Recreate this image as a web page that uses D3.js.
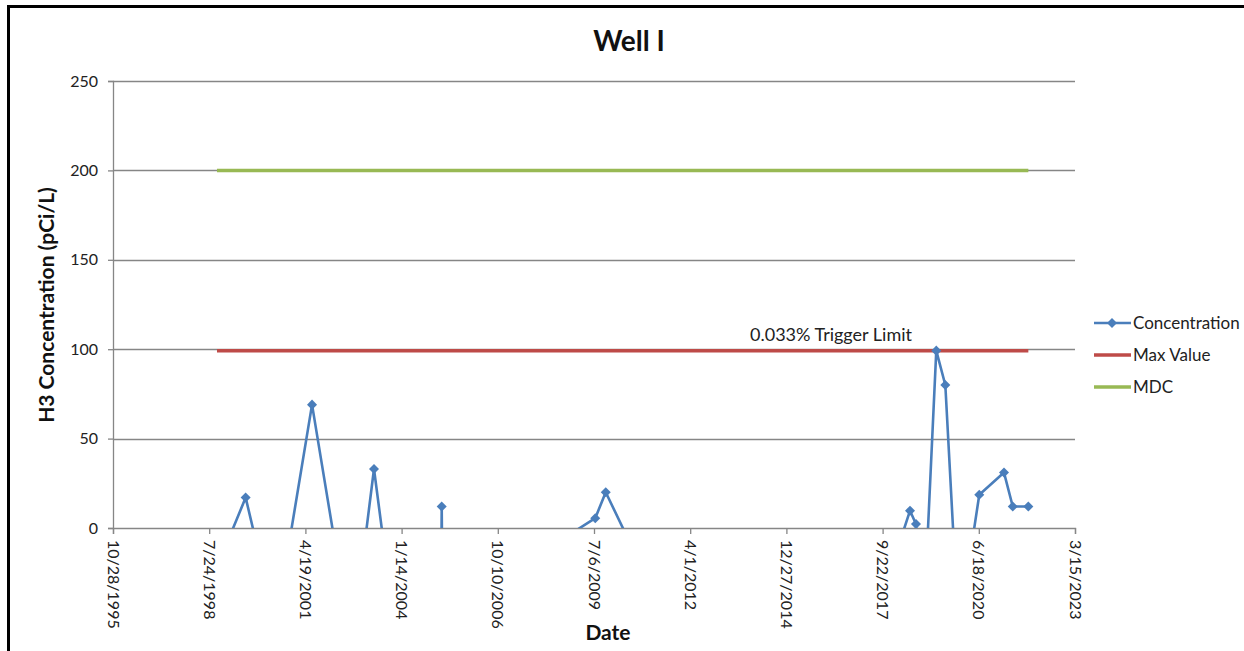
<!DOCTYPE html>
<html>
<head>
<meta charset="utf-8">
<script src="https://cdn.jsdelivr.net/npm/d3@7"></script>
<style>
  body { margin: 0; background: #fff; }
  svg { display: block; font-family: Lato, "Noto Sans", sans-serif; }
</style>
</head>
<body>
<div id="chart"></div>
<script>
// sample dates and H3 concentrations (negative non-detects fall below the axis)
var sampleDates = ['10/13/1998', '8/7/1999', '6/14/2000', '6/27/2001', '8/15/2002', '4/2/2003',
  '12/28/2003', '2/25/2005', '3/6/2005', '3/15/2005', '7/19/2009', '11/5/2009', '10/27/2010',
  '7/12/2012', '10/21/2014', '10/18/2016', '1/29/2018', '7/4/2018', '9/4/2018', '11/6/2018',
  '4/3/2019', '7/6/2019', '11/21/2019', '6/23/2020', '3/7/2021', '6/6/2021', '11/15/2021'];
var concentration = [-22, 17, -54, 69, -66, 33, -78, -60, 12, -49, 5.5, 20, -20, -30, -15, -25,
  -16, 9.7, 2.2, -72, 99.2, 80, -58, 18.6, 31, 12, 12];
var maxValue = 99.2;
var mdcValue = 200;

var xTickLabels = ['10/28/1995', '7/24/1998', '4/19/2001', '1/14/2004', '10/10/2006', '7/6/2009',
  '4/1/2012', '12/27/2014', '9/22/2017', '6/18/2020', '3/15/2023'];
var yTicks = [0, 50, 100, 150, 200, 250];

var seriesNames = ['Concentration', 'Max Value', 'MDC'];
var seriesColors = ['#4a7ebb', '#be4b48', '#98b954'];

var parseDate = d3.timeParse('%m/%d/%Y');

var margin = { top: 81, left: 113 };
var width = 1075 - 113;
var height = 528 - 81;

var svg = d3.select('#chart')
  .append('svg')
  .attr('width', 1244)
  .attr('height', 651);

// chart frame (only left and top visible)
svg.append('rect')
  .attr('x', 8.5)
  .attr('y', 6.5)
  .attr('width', 1400)
  .attr('height', 800)
  .attr('fill', 'none')
  .attr('stroke', '#000')
  .attr('stroke-width', 3);

var x = d3.scaleTime()
  .domain([parseDate(xTickLabels[0]), parseDate(xTickLabels[xTickLabels.length - 1])])
  .range([0, width]);
var y = d3.scaleLinear()
  .domain([0, 250])
  .range([height, 0]);

var g = svg.append('g')
  .attr('transform', 'translate(' + margin.left + ',' + margin.top + ')');

// gridlines
g.selectAll('.grid')
  .data(yTicks.slice(1))
  .enter()
  .append('line')
  .attr('class', 'grid')
  .attr('x1', 0)
  .attr('x2', width)
  .attr('y1', function(d) { return Math.round(y(d)) + 0.5; })
  .attr('y2', function(d) { return Math.round(y(d)) + 0.5; })
  .attr('stroke', '#868686')
  .attr('stroke-width', 1.3);

// y axis
var yAxis = g.append('g')
  .call(d3.axisLeft(y).tickValues(yTicks).tickSize(5).tickPadding(10));
yAxis.select('.domain').attr('stroke', '#868686').attr('stroke-width', 1.3);
yAxis.selectAll('.tick line').attr('stroke', '#868686').attr('stroke-width', 1.3);
yAxis.selectAll('.tick text')
  .attr('font-size', 16)
  .attr('fill', '#222')
  .attr('font-family', 'Lato, "Noto Sans", sans-serif');

// x axis
var xAxis = g.append('g')
  .attr('transform', 'translate(0,' + height + ')')
  .call(d3.axisBottom(x)
    .tickValues(xTickLabels.map(parseDate))
    .tickSize(6)
    .tickFormat(function(d, i) { return xTickLabels[i]; }));
xAxis.select('.domain').attr('stroke', '#868686').attr('stroke-width', 1.3);
xAxis.selectAll('.tick line').attr('stroke', '#868686').attr('stroke-width', 1.3);
xAxis.selectAll('.tick text')
  .attr('font-size', 16)
  .attr('fill', '#222')
  .attr('font-family', 'Lato, "Noto Sans", sans-serif')
  .attr('text-anchor', 'start')
  .attr('dy', null)
  .attr('transform', 'translate(-6,12) rotate(90)')
  .attr('y', 0)
  .attr('x', 0);

// clip
svg.append('defs').append('clipPath')
  .attr('id', 'plotclip')
  .append('rect')
  .attr('x', 0)
  .attr('y', -10)
  .attr('width', width)
  .attr('height', height + 10);

var plot = g.append('g').attr('clip-path', 'url(#plotclip)');

var firstDate = parseDate(sampleDates[0]);
var lastDate = parseDate(sampleDates[sampleDates.length - 1]);

// MDC and Max Value lines
plot.append('line')
  .attr('x1', x(firstDate)).attr('x2', x(lastDate))
  .attr('y1', y(mdcValue)).attr('y2', y(mdcValue))
  .attr('stroke', seriesColors[2])
  .attr('stroke-width', 3.5);
plot.append('line')
  .attr('x1', x(firstDate)).attr('x2', x(lastDate))
  .attr('y1', y(maxValue)).attr('y2', y(maxValue))
  .attr('stroke', seriesColors[1])
  .attr('stroke-width', 3.5);

var data = sampleDates.map(function(d, i) {
  return { date: parseDate(d), value: concentration[i] };
});

var line = d3.line()
  .x(function(d) { return x(d.date); })
  .y(function(d) { return y(d.value); });

plot.append('path')
  .datum(data)
  .attr('d', line)
  .attr('fill', 'none')
  .attr('stroke', seriesColors[0])
  .attr('stroke-width', 2.6)
  .attr('stroke-linejoin', 'round');

var diamond = d3.symbol().type(d3.symbolDiamond2).size(64);
plot.selectAll('.marker')
  .data(data)
  .enter()
  .append('path')
  .attr('class', 'marker')
  .attr('d', diamond)
  .attr('transform', function(d) { return 'translate(' + x(d.date) + ',' + y(d.value) + ')'; })
  .attr('fill', seriesColors[0]);

// trigger label
g.append('text')
  .attr('x', 831 - margin.left)
  .attr('y', y(maxValue) - 10)
  .attr('text-anchor', 'middle')
  .attr('font-size', 18)
  .attr('fill', '#222')
  .text('0.033% Trigger Limit');

// title and axis titles
svg.append('text')
  .attr('x', 629)
  .attr('y', 51)
  .attr('text-anchor', 'middle')
  .attr('font-size', 28)
  .attr('font-weight', 'bold')
  .attr('fill', '#111')
  .text('Well I');

svg.append('text')
  .attr('transform', 'translate(54,305) rotate(-90)')
  .attr('text-anchor', 'middle')
  .attr('font-size', 21)
  .attr('font-weight', 'bold')
  .attr('fill', '#111')
  .text('H3 Concentration (pCi/L)');

svg.append('text')
  .attr('x', 608)
  .attr('y', 640)
  .attr('text-anchor', 'middle')
  .attr('font-size', 21)
  .attr('font-weight', 'bold')
  .attr('fill', '#111')
  .text('Date');

// legend
var legend = svg.append('g').attr('transform', 'translate(1094,323)');
var items = legend.selectAll('.item')
  .data(seriesNames)
  .enter()
  .append('g')
  .attr('transform', function(d, i) { return 'translate(0,' + (i * 32) + ')'; });
items.append('line')
  .attr('x1', 0).attr('x2', 37)
  .attr('y1', 0).attr('y2', 0)
  .attr('stroke', function(d, i) { return seriesColors[i]; })
  .attr('stroke-width', function(d, i) { return i === 0 ? 2.6 : 3.5; });
legend.append('path')
  .attr('d', diamond)
  .attr('transform', 'translate(18,0)')
  .attr('fill', seriesColors[0]);
items.append('text')
  .attr('x', 39)
  .attr('y', 6)
  .attr('font-size', 17)
  .attr('fill', '#222')
  .text(function(d) { return d; });
</script>
</body>
</html>
